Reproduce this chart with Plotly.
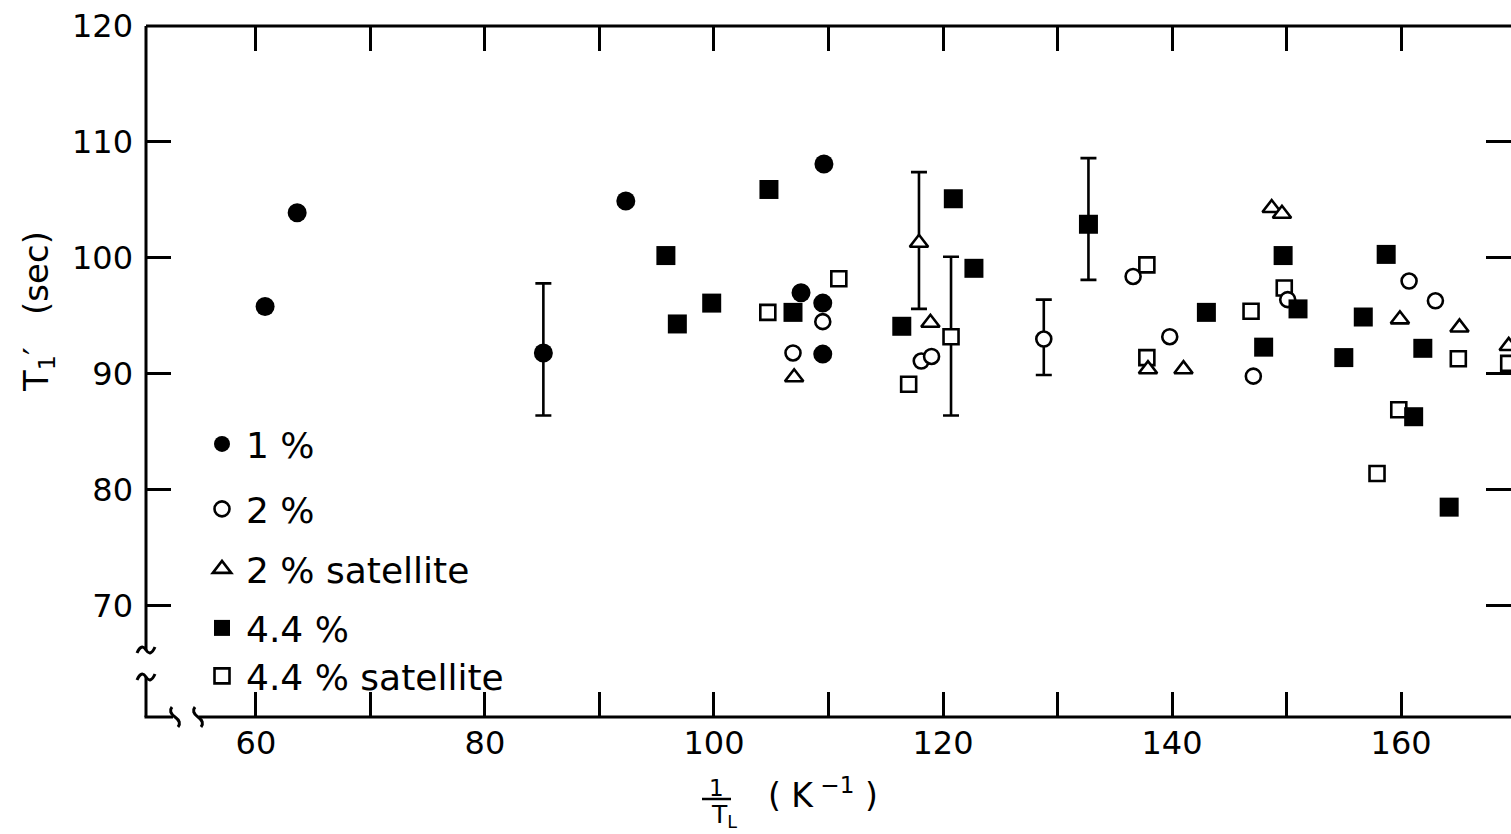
import plotly.graph_objects as go

# T1' (sec) against 1/T_L (K^-1) for each sample concentration
inv_t_1 = [60.8, 63.6, 85.1, 92.3, 107.6, 109.5, 109.5, 109.6]
t1_1 = [95.8, 103.9, 91.8, 104.9, 97.0, 96.1, 91.7, 108.1]
up_1 = [0, 0, 6.0, 0, 0, 0, 0, 0]
dn_1 = [0, 0, 5.4, 0, 0, 0, 0, 0]

inv_t_2 = [106.9, 109.5, 118.1, 119.0, 128.8, 136.6, 139.8, 147.1, 150.1, 160.7, 163.0]
t1_2 = [91.8, 94.5, 91.1, 91.5, 93.0, 98.4, 93.2, 89.8, 96.4, 98.0, 96.3]
up_2 = [0, 0, 0, 0, 3.4, 0, 0, 0, 0, 0, 0]
dn_2 = [0, 0, 0, 0, 3.1, 0, 0, 0, 0, 0, 0]

inv_t_2s = [107.0, 117.9, 118.9, 137.9, 141.0, 148.7, 149.6, 159.9, 165.1, 169.4]
t1_2s = [89.7, 101.3, 94.4, 90.4, 90.4, 104.3, 103.8, 94.7, 94.0, 92.4]
up_2s = [0, 6.1, 0, 0, 0, 0, 0, 0, 0, 0]
dn_2s = [0, 5.7, 0, 0, 0, 0, 0, 0, 0, 0]

inv_t_44 = [95.8, 96.8, 99.8, 104.8, 106.9, 116.4, 120.9, 122.7, 132.7, 143.0,
            148.0, 149.7, 151.0, 155.0, 156.7, 158.7, 161.1, 161.9, 164.2]
t1_44 = [100.2, 94.3, 96.1, 105.9, 95.3, 94.1, 105.1, 99.1, 102.9, 95.3,
         92.3, 100.2, 95.6, 91.4, 94.9, 100.3, 86.3, 92.2, 78.5]
up_44 = [0, 0, 0, 0, 0, 0, 0, 0, 5.7, 0, 0, 0, 0, 0, 0, 0, 0, 0, 0]
dn_44 = [0, 0, 0, 0, 0, 0, 0, 0, 4.8, 0, 0, 0, 0, 0, 0, 0, 0, 0, 0]

inv_t_44s = [104.7, 110.9, 117.0, 120.7, 137.8, 137.8, 146.9, 149.8, 157.9, 159.8, 165.0, 169.4]
t1_44s = [95.3, 98.2, 89.1, 93.2, 99.4, 91.4, 95.4, 97.4, 81.4, 86.9, 91.3, 90.9]
up_44s = [0, 0, 0, 6.9, 0, 0, 0, 0, 0, 0, 0, 0]
dn_44s = [0, 0, 0, 6.8, 0, 0, 0, 0, 0, 0, 0, 0]

x_tickvals = [60, 70, 80, 90, 100, 110, 120, 130, 140, 150, 160]
x_ticktext = ["60", "", "80", "", "100", "", "120", "", "140", "", "160"]
y_tickvals = [70, 80, 90, 100, 110, 120]
y_ticktext = ["70", "80", "90", "100", "110", "120"]

W, H = 1511, 834
PL, PT, PR, PB = 146, 26, 1511, 717
FONT = "DejaVu Sans"
INK = "black"


def fx(p):
    return (p - PL) / (PR - PL)


def fy(p):
    return (PB - p) / (PB - PT)


# name, x, y, err+, err-, symbol, fill, size, legend id, legend centre (px)
series = [
    ("4.4 % satellite", inv_t_44s, t1_44s, up_44s, dn_44s, "square", "white", 15, "legend5", 676),
    ("2 %", inv_t_2, t1_2, up_2, dn_2, "circle", "white", 15, "legend2", 509),
    ("2 % satellite", inv_t_2s, t1_2s, up_2s, dn_2s, "triangle-up", "white", 16, "legend3", 569),
    ("4.4 %", inv_t_44, t1_44, up_44, dn_44, "square", INK, 19, "legend4", 628),
    ("1 %", inv_t_1, t1_1, up_1, dn_1, "circle", INK, 19, "legend", 444),
]

fig = go.Figure()

# error bars underneath every marker
for name, xs, ys, up, dn, sym, fill, size, lg, ly in series:
    idx = [i for i in range(len(xs)) if up[i] > 0 or dn[i] > 0]
    fig.add_trace(go.Scatter(
        x=[xs[i] for i in idx], y=[ys[i] for i in idx], mode="markers",
        marker=dict(size=2, opacity=0),
        error_y=dict(type="data", symmetric=False,
                     array=[up[i] for i in idx], arrayminus=[dn[i] for i in idx],
                     color=INK, thickness=2.6, width=8),
        showlegend=False, hoverinfo="skip"))

for name, xs, ys, up, dn, sym, fill, size, lg, ly in series:
    fig.add_trace(go.Scatter(
        x=xs, y=ys, mode="markers", name=name, legend=lg,
        marker=dict(symbol=sym, size=size, color=fill,
                    line=dict(color=INK, width=2.6 if fill == "white" else 0))))

legend_layout = {}
for name, xs, ys, up, dn, sym, fill, size, lg, ly in series:
    legend_layout[lg] = dict(
        x=fx(198), y=fy(ly), xanchor="left", yanchor="middle",
        bgcolor="rgba(0,0,0,0)", borderwidth=0,
        font=dict(family=FONT, size=36, color=INK),
        itemsizing="trace", itemwidth=38)

# frame drawn with breaks on both axes
LW = 3
shapes = []


def seg(x0, y0, x1, y1, w=LW):
    shapes.append(dict(type="line", xref="paper", yref="paper",
                       x0=fx(x0), y0=fy(y0), x1=fx(x1), y1=fy(y1),
                       line=dict(color=INK, width=w)))


def path(points):
    d = "M {:.5f},{:.5f}".format(fx(points[0][0]), fy(points[0][1]))
    rest = points[1:]
    for k in range(0, len(rest), 2):
        (cx, cy), (ex, ey) = rest[k], rest[k + 1]
        d += " Q {:.5f},{:.5f} {:.5f},{:.5f}".format(fx(cx), fy(cy), fx(ex), fy(ey))
    shapes.append(dict(type="path", xref="paper", yref="paper", path=d,
                       line=dict(color=INK, width=LW)))


seg(PL, PT, PR, PT)
seg(PL, PT, PL, 650)
seg(PL, 677, PL, PB)
seg(PL - 1.5, PB, 173, PB)
seg(199, PB, PR, PB)
# horizontal tildes on the y axis
for cy in (650, 677):
    path([(PL - 9, cy + 3), (PL - 4.5, cy - 7), (PL, cy), (PL + 4.5, cy + 7), (PL + 9, cy - 3)])
# vertical tildes on the x axis
for cx in (175, 198):
    path([(cx - 3, PB - 10), (cx - 7, PB - 5), (cx, PB), (cx + 7, PB + 5), (cx + 3, PB + 10)])

# fraction bar of the x title
seg(702, 799, 731, 799, 2.5)

title_font = dict(family=FONT, size=33, color=INK)
annotations = [
    dict(text="T<sub>1</sub>′   (sec)", textangle=-90, xref="paper", yref="paper",
         x=fx(38), y=fy(312), xanchor="center", yanchor="middle", showarrow=False,
         font=dict(family=FONT, size=34, color=INK)),
    dict(text="1", xref="paper", yref="paper", x=fx(716), y=fy(788),
         xanchor="center", yanchor="middle", showarrow=False,
         font=dict(family=FONT, size=23, color=INK)),
    dict(text="T<sub>L</sub>", xref="paper", yref="paper", x=fx(724), y=fy(816),
         xanchor="center", yanchor="middle", showarrow=False,
         font=dict(family=FONT, size=25, color=INK)),
    dict(text="( K<sup> −1</sup> )", xref="paper", yref="paper", x=fx(766), y=fy(793),
         xanchor="left", yanchor="middle", showarrow=False, font=title_font),
]

axis_common = dict(showgrid=False, zeroline=False, showline=False,
                   ticks="inside", ticklen=25, tickwidth=2.6, tickcolor=INK,
                   mirror="ticks", tickfont=dict(family=FONT, size=32, color=INK))

fig.update_layout(
    width=W, height=H, autosize=False,
    margin=dict(l=PL, r=W - PR, t=PT, b=H - PB, pad=0),
    paper_bgcolor="white", plot_bgcolor="white",
    xaxis=dict(range=[50.4, 169.6], tickmode="array", tickvals=x_tickvals,
               ticktext=x_ticktext, ticklabelstandoff=4, **axis_common),
    yaxis=dict(range=[60.4, 120], tickmode="array", tickvals=y_tickvals,
               ticktext=y_ticktext, ticklabelstandoff=12, **axis_common),
    shapes=shapes, annotations=annotations,
    **legend_layout,
)

fig.write_html("out.html")
